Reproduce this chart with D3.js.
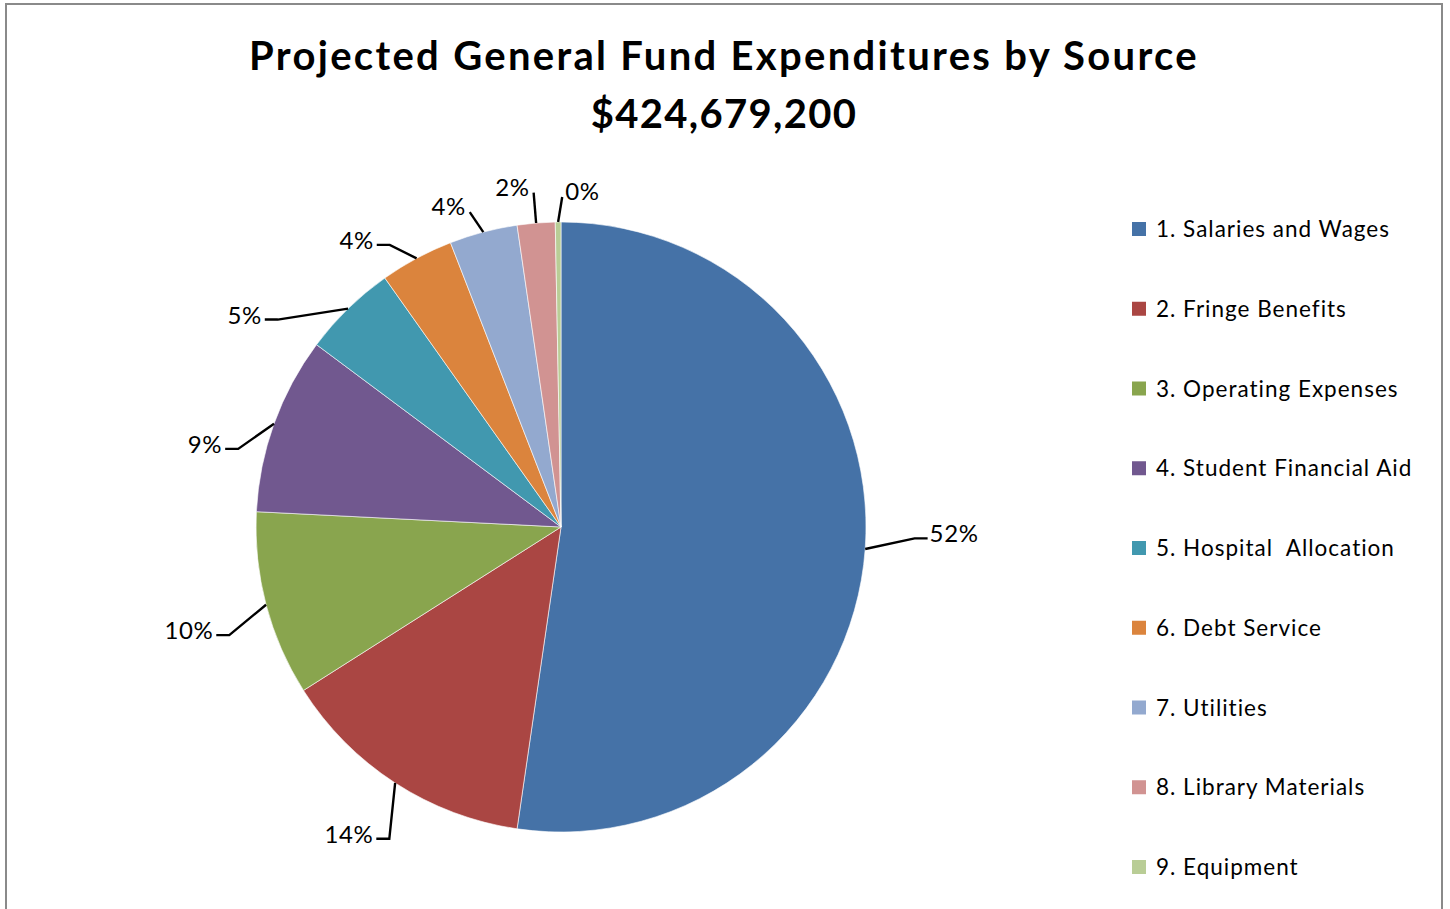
<!DOCTYPE html>
<html>
<head>
<meta charset="utf-8">
<script src="https://cdn.jsdelivr.net/npm/d3@7"></script>
<style>
  html, body { margin: 0; padding: 0; background: #fff; }
  svg { display: block; }
</style>
</head>
<body>
<svg id="chart" width="1450" height="909"></svg>
<script>
// ---- data ----
const titleLine1 = "Projected General Fund Expenditures by Source";
const titleLine2 = "$424,679,200";
const categories = [
  "1. Salaries and Wages",
  "2. Fringe Benefits",
  "3. Operating Expenses",
  "4. Student Financial Aid",
  "5. Hospital  Allocation",
  "6. Debt Service",
  "7. Utilities",
  "8. Library Materials",
  "9. Equipment"
];
const shares = [52.3, 13.7, 9.8, 9.4, 5.0, 3.9, 3.6, 2.0, 0.3];
const colors = ["#4572A7", "#AA4643", "#89A54E", "#71588F", "#4198AF",
                "#DB843D", "#93A9CF", "#D19392", "#B9CD96"];

// ---- label placement (layout only): leader-elbow angle nudge (deg) and radius factor ----
const labelNudgeDeg = [-2.3, -4.1, -3.3, -6.2, -9.5, -3.0, -1.4, 0.0, 0.75];
const labelRadiusK  = [1.16, 1.167, 1.144, 1.089, 1.151, 1.082, 1.075, 1.10, 1.082];

// ---- layout ----
const cx = 561, cy = 527, R = 305;
const svg = d3.select("#chart");
const font = "Lato, 'Open Sans', sans-serif";

// frame
svg.append("rect")
  .attr("x", 6).attr("y", 4).attr("width", 1436).attr("height", 940)
  .attr("fill", "none").attr("stroke", "#8a8a8a").attr("stroke-width", 2);

// title
const title = svg.append("text")
  .attr("text-anchor", "middle")
  .attr("font-family", font).attr("font-weight", 700)
  .attr("font-size", 40).attr("fill", "#000");
title.append("tspan").attr("x", 724).attr("y", 70).attr("letter-spacing", 2.3).text(titleLine1);
title.append("tspan").attr("x", 724).attr("y", 128).attr("letter-spacing", 1.3).text(titleLine2);

// pie
const data = categories.map((c, i) => ({ name: c, value: shares[i], color: colors[i] }));
const total = d3.sum(shares);
const pie = d3.pie().value(d => d.value).sort(null);
const arcs = pie(data);
const arc = d3.arc().innerRadius(0).outerRadius(R);

const g = svg.append("g").attr("transform", `translate(${cx},${cy})`);
g.selectAll("path.slice").data(arcs).enter().append("path")
  .attr("class", "slice")
  .attr("d", arc)
  .attr("fill", d => d.data.color)
  .attr("stroke", "#fff").attr("stroke-width", 0.6);

// labels with leader lines
const pt = (ang, r) => [r * Math.sin(ang), -r * Math.cos(ang)];
const deg = Math.PI / 180;
arcs.forEach((d, i) => {
  const mid = (d.startAngle + d.endAngle) / 2;
  const p0 = pt(mid, R);
  const p1 = pt(mid + labelNudgeDeg[i] * deg, R * labelRadiusK[i]);
  const fromTop = Math.min(mid, 2 * Math.PI - mid);
  const right = mid < Math.PI;
  const label = Math.round(d.data.value / total * 100) + "%";
  const lab = g.append("text")
    .attr("font-family", font).attr("font-size", 24).attr("letter-spacing", 0.6)
    .attr("fill", "#000").text(label);
  let pts;
  if (fromTop < 20 * deg) {
    pts = [p0, p1];
    const rightTop = p1[0] > 0;
    lab.attr("x", p1[0] + (rightTop ? 3 : -4))
       .attr("y", p1[1] + 3)
       .attr("text-anchor", rightTop ? "start" : "end");
  } else {
    const p2 = [p1[0] + (right ? 13 : -13), p1[1]];
    pts = [p0, p1, p2];
    lab.attr("x", p2[0] + (right ? 2 : -3))
       .attr("y", p2[1] + 4)
       .attr("text-anchor", right ? "start" : "end");
  }
  g.append("path")
    .attr("d", d3.line()(pts))
    .attr("fill", "none").attr("stroke", "#000").attr("stroke-width", 2.4);
});

// legend
const legendY = d3.scalePoint().domain(categories).range([229, 867]);
const lg = svg.append("g");
categories.forEach((c, i) => {
  const y = legendY(c);
  lg.append("rect").attr("x", 1132).attr("y", y - 7).attr("width", 14).attr("height", 14)
    .attr("fill", colors[i]);
  lg.append("text").attr("x", 1156).attr("y", y + 8)
    .attr("font-family", font).attr("font-size", 22.5).attr("letter-spacing", 1)
    .attr("fill", "#000")
    .attr("xml:space", "preserve").style("white-space", "pre")
    .text(c);
});
</script>
</body>
</html>
